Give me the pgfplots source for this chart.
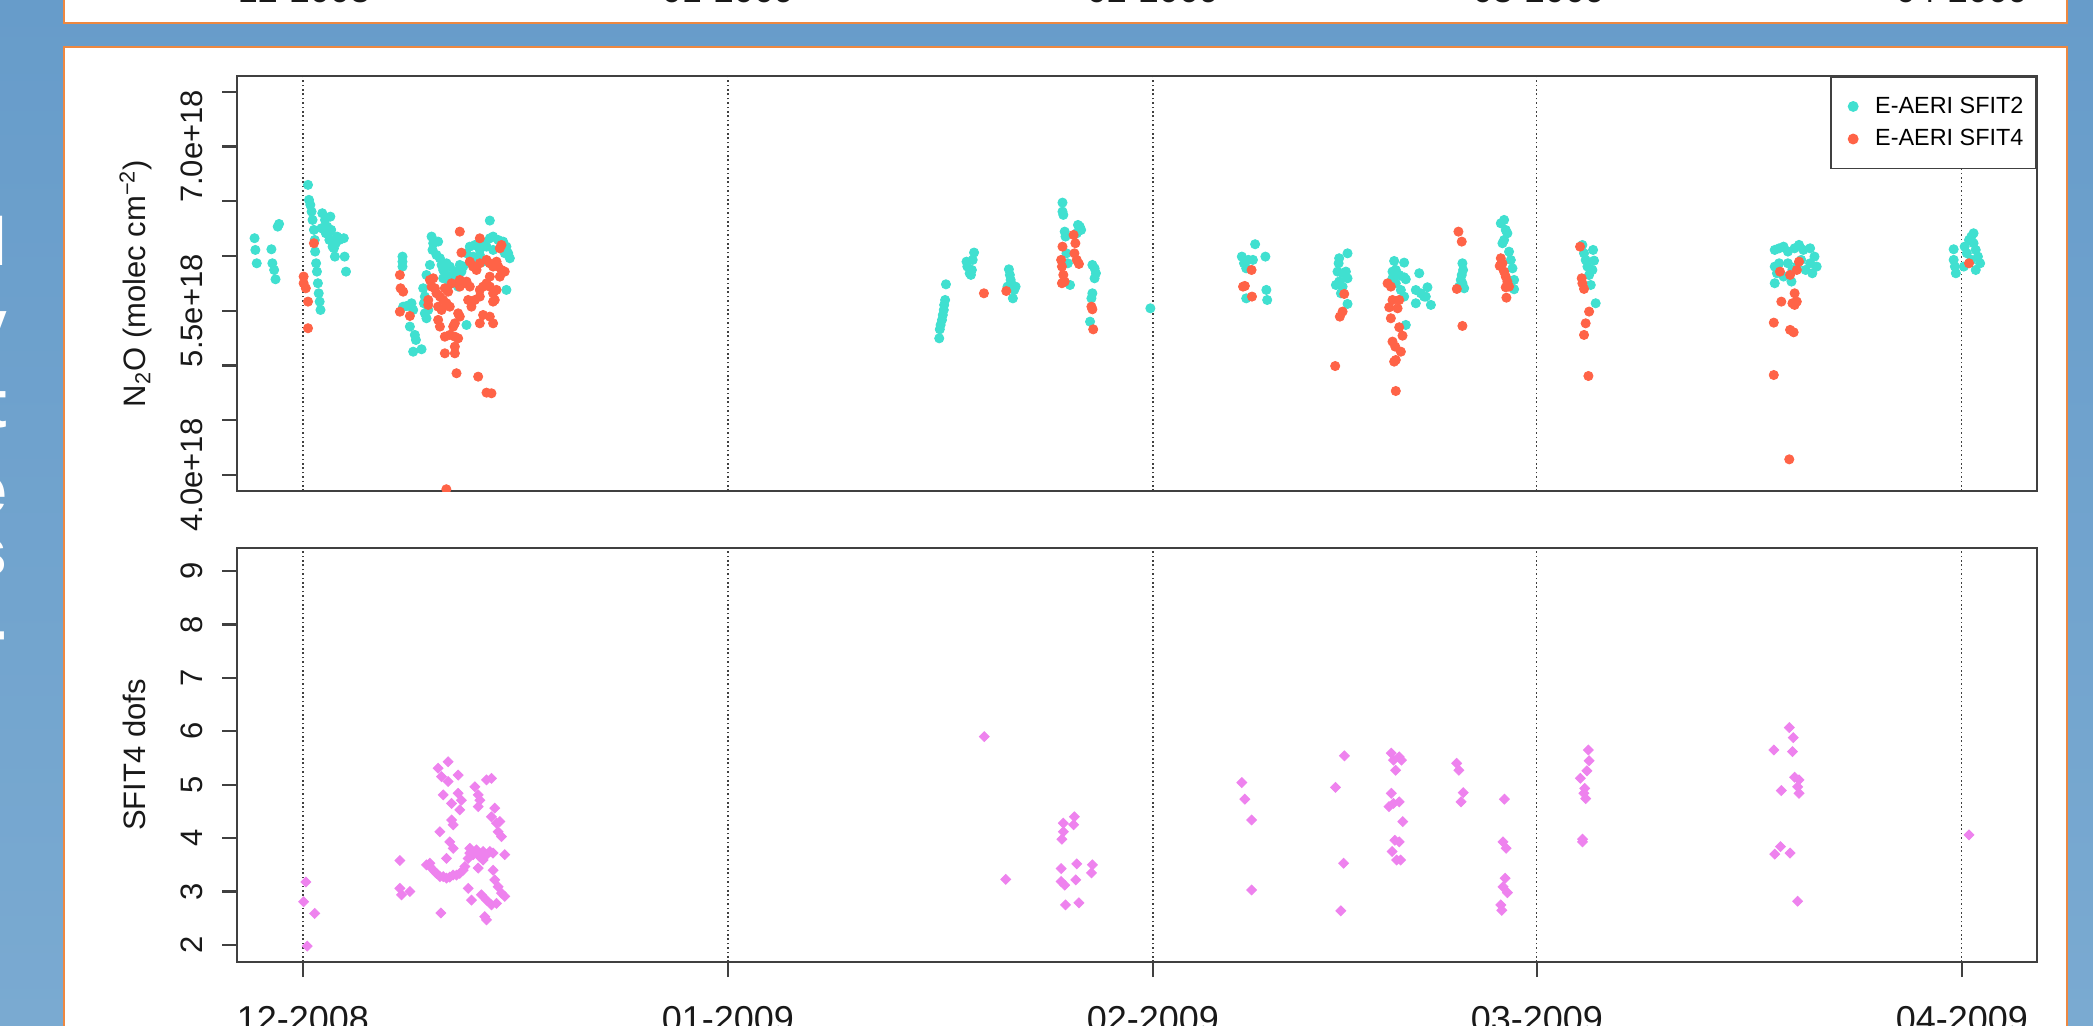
\documentclass[border=0pt]{standalone}
\usepackage{fontspec}
\setmainfont{Liberation Sans}
\usepackage{pgfplots}
\pgfplotsset{compat=1.18}
\definecolor{bgtop}{HTML}{679CCA}
\definecolor{bgbot}{HTML}{7AAAD1}
\definecolor{panelorange}{HTML}{EE8840}
\definecolor{turq}{HTML}{40E0D0}
\definecolor{tomato}{HTML}{FF6347}
\definecolor{violetR}{HTML}{EE82EE}
\definecolor{axisgray}{HTML}{404040}
\pgfplotsset{
  rplot/.style={
    scale only axis, width=900pt,
    xmin=-4.81, xmax=126.48,
    xtick={0,31,62,90,121},
    xmajorgrids,
    major grid style={black!75, line width=0.6pt, dash pattern=on 0.8pt off 1.4pt},
    tick align=outside, major tick length=7.5pt,
    ytick pos=left, xtick pos=bottom,
    minor tick num=0,
    tick style={axisgray, line width=1.1pt},
    axis line style={axisgray, line width=1.1pt},
    yticklabel style={font=\fontsize{15.5}{15.5}\selectfont, text=black!90, inner sep=0pt, xshift=-9.5pt, rotate=90, anchor=south},
    ylabel style={font=\fontsize{15.5}{15.5}\selectfont, text=black!90, at={(axis description cs:-0.0511,0.5)}, anchor=base, inner sep=0pt},
    clip marker paths=true,
  }
}
\begin{document}
\begin{tikzpicture}
\useasboundingbox (0,0) rectangle (1046.5pt,512.5pt);
\clip (0,0) rectangle (1046.5pt,512.5pt);
\fill[top color=bgtop, bottom color=bgbot] (0,0) rectangle (1046.5pt,512.5pt);
% cut-off slide title letters at the far left
\begin{scope}
\clip (0,0) rectangle (31pt,512.5pt);
\foreach \yy/\ch in {380/l, 339/y, 299/t, 256/e, 225/s, 186/-}{
  \node[anchor=base east, text=white, inner sep=0pt, font=\fontsize{34}{34}\selectfont\bfseries] at (4pt,\yy pt) {\ch};
}
\end{scope}
% upper (cut) panel
\draw[panelorange, line width=1.3pt, fill=white] (32pt,501pt) rectangle (1033.5pt,530pt);
\foreach \xx/\lab in {152/12-2008, 364/01-2009, 576.5/02-2009, 769.5/03-2009, 981/04-2009}{
  \node[anchor=base, inner sep=0pt, font=\fontsize{18}{18}\selectfont, text=black!90] at (\xx pt,511pt) {\lab};
}
% main panel
\draw[panelorange, line width=1.3pt, fill=white] (32pt,-20pt) rectangle (1033.5pt,489pt);

% ---------- top axis: N2O ----------
\begin{axis}[rplot,
  at={(118.5pt,267pt)}, anchor=south west, height=207.5pt,
  ymin=3.854, ymax=7.643,
  ytick={4,4.5,5,5.5,6,6.5,7,7.5},
  yticklabels={4.0e+18,,,5.5e+18,,,7.0e+18,},
  xticklabels={},
  xtick style={draw=none},
  ylabel={N\textsubscript{2}O (molec cm\textsuperscript{−2})},
  legend cell align=left,
  legend style={at={(1,1)}, anchor=north east, draw=axisgray, line width=0.8pt, fill=white,
    inner xsep=6.4pt, inner ysep=10pt, row sep=6.6pt,
    font=\fontsize{11.7}{11.7}\selectfont, nodes={inner sep=0pt}},
  legend image code/.code={\path[draw=none, fill=none] (0pt,-2pt) rectangle (15.6pt,2pt);
    \draw[mark repeat=2,mark phase=2] plot coordinates {(0pt,0pt)(4.6pt,0pt)(9.2pt,0pt)};},
]
\addplot[only marks, mark=*, mark size=2.3pt, color=turq, mark options={draw=turq, fill=turq}] coordinates {
(-3.53,6.162) (-3.47,6.055) (-3.37,5.933) (-2.30,6.061) (-2.23,5.933) (-2.10,5.872) (-2.00,5.787) (-1.84,6.268) (-1.74,6.292)
(0.37,6.649) (0.44,6.512) (0.54,6.466) (0.63,6.405) (0.70,6.329) (0.80,6.238) (0.86,6.146) (0.89,6.040) (0.96,5.933) (1.02,5.857)
(1.09,5.751) (1.15,5.659) (1.22,5.583) (1.28,5.507) (1.35,6.253) (1.41,6.390) (1.61,6.329) (1.67,6.207) (1.77,6.268) (1.87,6.207)
(1.93,6.146) (2.00,6.359) (2.06,6.238) (2.16,6.085) (2.26,6.070) (2.33,5.994) (2.39,6.116) (2.49,6.177) (2.65,6.146) (2.98,6.162)
(3.04,5.994) (3.14,5.857)
(7.26,5.994) (7.26,5.948) (7.26,5.903) (7.31,5.537) (7.56,5.543) (7.92,5.568) (8.04,5.507) (7.80,5.355) (8.16,5.279) (8.24,5.233)
(8.04,5.126) (8.65,5.148) (8.77,5.705) (8.89,5.629) (8.82,5.568) (8.89,5.476) (9.01,5.431) (9.14,5.507) (9.01,5.826) (9.26,5.918)
(9.38,6.177) (9.50,6.116) (9.45,6.055) (9.86,6.131) (9.74,6.009) (9.99,5.979) (10.11,5.918) (10.23,5.872) (10.47,5.933) (10.71,5.903)
(10.47,5.826) (10.84,5.811) (11.08,5.857) (11.20,5.781) (10.96,5.750) (11.32,5.720) (11.56,5.857) (11.44,5.918) (10.71,5.750) (10.23,5.796)
(11.93,5.370) (12.17,6.085) (12.54,6.100) (12.90,6.055) (13.14,6.116) (13.63,6.161) (13.87,6.177) (14.24,6.146) (14.60,6.131) (14.84,6.085)
(14.97,6.025) (15.09,5.979) (14.72,6.025) (13.39,6.085) (13.87,6.055) (12.90,6.009) (12.41,5.994) (12.66,5.918) (13.14,5.948) (14.84,5.690)
(13.63,6.323) (11.93,6.025) (11.69,5.903)
(46.41,5.248) (46.45,5.330) (46.51,5.370) (46.61,5.416) (46.67,5.461) (46.74,5.507) (46.77,5.553) (46.84,5.598) (46.90,5.741)
(48.40,5.948) (48.46,5.903) (48.63,5.842) (48.79,5.872) (48.85,5.964) (48.95,6.031) (48.72,5.827)
(51.49,5.878) (51.56,5.827) (51.62,5.781) (51.72,5.735) (51.88,5.690) (51.78,5.613) (51.98,5.720) (51.39,5.720)
(55.40,6.487) (55.40,6.405) (55.46,6.375) (55.56,6.222) (55.62,6.177) (55.69,6.024) (55.79,5.933) (55.95,5.735) (56.53,6.283) (56.66,6.268)
(56.76,6.238) (56.44,6.207)
(57.58,5.918) (57.74,5.887) (57.84,5.842) (57.74,5.796) (57.58,5.659) (57.51,5.613) (57.41,5.400)
(61.81,5.522)
(68.48,5.994) (68.64,5.933) (68.80,5.887) (68.96,5.964) (69.45,6.107) (69.29,5.964) (70.20,5.994) (68.80,5.613) (70.27,5.690) (70.33,5.598)
(75.58,5.979) (75.54,5.933) (76.19,6.024) (75.46,5.857) (75.83,5.842) (76.07,5.857) (76.19,5.796) (75.34,5.735) (75.58,5.766) (75.83,5.720)
(76.19,5.562) (75.71,5.659)
(79.59,5.954) (80.32,5.939) (79.47,5.857) (79.71,5.872) (79.96,5.826) (80.32,5.805) (80.44,5.787) (79.47,5.796) (79.71,5.750) (80.08,5.689)
(80.32,5.629) (81.42,5.842) (81.17,5.689) (81.54,5.659) (81.78,5.629) (82.02,5.714) (81.90,5.629) (81.17,5.568) (82.27,5.553) (80.44,5.370)
(84.57,5.933) (84.62,5.872) (84.52,5.826) (84.45,5.781) (84.57,5.750) (84.70,5.705) (84.33,5.720)
(87.37,6.298) (87.61,6.329) (87.73,6.237) (87.85,6.207) (87.61,6.146) (87.49,6.116) (87.97,6.039) (88.10,5.963) (88.22,5.887) (88.34,5.781)
(88.34,5.696)
(93.32,6.100) (93.44,6.024) (94.10,6.055) (93.56,5.963) (94.17,5.957) (93.69,5.903) (94.05,5.872) (93.81,5.826) (93.93,5.735) (94.29,5.568)
(107.35,6.055) (107.67,6.070) (107.99,6.085) (108.31,6.040) (108.80,6.070) (109.12,6.101) (109.44,6.055) (109.93,6.070) (110.25,5.994) (110.41,5.903)
(110.09,5.842) (109.60,5.872) (108.96,5.903) (108.31,5.933) (107.67,5.933) (107.35,5.903) (107.51,5.842) (107.99,5.812) (108.64,5.872) (109.28,5.964)
(109.93,5.933) (107.35,5.751) (108.57,5.766)
(120.40,6.061) (120.40,5.964) (120.49,5.903) (120.56,5.842) (121.14,5.903) (121.20,6.085) (121.52,6.146) (121.69,6.177) (121.85,6.116) (122.01,6.055)
(122.17,5.994) (122.33,5.933) (122.01,5.872) (121.36,6.025) (121.69,5.964) (121.85,6.207)
};
\addlegendentry{E-AERI SFIT2}
\addplot[only marks, mark=*, mark size=2.3pt, color=tomato, mark options={draw=tomato, fill=tomato}] coordinates {
(0.05,5.812) (0.05,5.751) (0.21,5.705) (0.80,6.116) (0.37,5.583) (0.37,5.340)
(7.07,5.826) (7.12,5.705) (7.31,5.674) (7.07,5.491) (7.80,5.452) (11.44,6.222) (12.90,6.161) (11.56,6.030) (14.48,6.100) (14.36,6.070)
(9.26,5.781) (9.50,5.796) (9.38,5.720) (9.62,5.705) (9.74,5.659) (9.99,5.629) (10.23,5.598) (10.47,5.568) (9.86,5.537) (10.11,5.507)
(9.14,5.598) (9.14,5.553) (10.71,5.537) (10.59,5.674) (10.35,5.705) (10.84,5.750) (11.44,5.781) (11.69,5.750) (11.93,5.766) (11.44,5.720)
(12.17,5.720) (12.05,5.598) (12.29,5.537) (12.54,5.598) (12.90,5.629) (12.17,5.948) (12.41,5.903) (12.66,5.872) (12.90,5.933) (13.39,5.964)
(13.63,5.933) (13.87,5.903) (14.12,5.948) (14.24,5.903) (14.48,5.872) (14.72,5.857) (14.36,5.811) (13.63,5.811) (13.39,5.750) (13.14,5.720)
(12.90,5.690) (13.63,5.720) (13.87,5.659) (14.12,5.690) (13.99,5.598) (13.87,5.583) (11.32,5.476) (11.44,5.446) (11.08,5.385) (10.96,5.355)
(9.86,5.416) (9.99,5.355) (10.35,5.263) (10.71,5.279) (11.08,5.263) (11.32,5.248) (11.08,5.172) (10.35,5.111) (11.08,5.111) (12.90,5.385)
(13.14,5.461) (13.63,5.446) (13.87,5.385) (11.20,4.929) (12.78,4.898) (13.39,4.752) (13.75,4.746) (10.46,3.870)
(49.67,5.659) (51.30,5.680) (55.40,6.085) (55.30,5.964) (55.36,5.903) (55.46,5.827) (55.56,5.766) (55.36,5.751) (56.21,6.192) (56.34,6.116)
(56.27,6.024) (56.44,5.964) (56.60,5.927) (57.51,5.537) (57.58,5.513) (57.64,5.330)
(69.19,5.872) (68.57,5.720) (68.70,5.726) (69.22,5.629)
(75.95,5.653) (75.83,5.492) (75.63,5.446) (75.29,4.995)
(79.11,5.750) (79.35,5.720) (79.47,5.598) (79.96,5.598) (79.23,5.531) (79.84,5.522) (79.35,5.431) (79.96,5.349) (80.20,5.272) (79.47,5.218)
(79.67,5.172) (80.08,5.126) (79.71,5.050) (79.59,5.035) (79.71,4.767)
(84.28,6.222) (84.52,6.131) (84.16,5.699) (84.57,5.361)
(87.37,5.979) (87.49,5.933) (87.29,5.909) (87.61,5.857) (87.73,5.811) (87.85,5.766) (87.73,5.714) (87.97,5.720) (87.78,5.619)
(93.15,6.085) (93.27,5.796) (93.32,5.750) (93.44,5.699) (93.81,5.492) (93.56,5.385) (93.44,5.279) (93.76,4.904)
(109.12,5.948) (108.96,5.872) (108.47,5.827) (107.73,5.857) (107.83,5.583) (108.80,5.659) (108.96,5.583) (108.64,5.568) (108.80,5.553) (107.28,5.391)
(108.47,5.325) (108.73,5.303) (107.28,4.913) (108.41,4.143) (121.52,5.933)
};
\addlegendentry{E-AERI SFIT4}
\end{axis}

% ---------- bottom axis: SFIT4 dofs ----------
\begin{axis}[rplot,
  at={(118.5pt,31.5pt)}, anchor=south west, height=207pt,
  ymin=1.682, ymax=9.43,
  ytick={2,3,4,5,6,7,8,9},
  yticklabels={2,3,4,5,6,7,8,9},
  xticklabels={12-2008,01-2009,02-2009,03-2009,04-2009},
  xticklabel style={font=\fontsize{18}{18}\selectfont, text=black!90, inner sep=0pt, anchor=base, yshift=-27pt},
  ylabel={SFIT4 dofs},
]
\addplot[only marks, mark=square*, mark size=1.75pt, color=violetR, mark options={rotate=45, draw=violetR, fill=violetR}] coordinates {
(0.05,2.81) (0.21,3.18) (0.86,2.59) (0.31,1.98)
(7.07,3.58) (7.07,3.06) (7.19,2.94) (7.80,3.00) (9.99,4.12) (10.06,2.60) (10.47,3.62) (10.59,5.43) (9.86,5.31) (10.11,5.15)
(10.59,5.06) (11.32,5.18) (10.23,4.81) (10.84,4.65) (11.32,4.84) (11.56,4.71) (11.44,4.53) (10.84,4.34) (10.96,4.25) (10.71,3.93)
(10.96,3.81) (12.54,4.96) (12.78,4.81) (12.78,4.59) (12.90,4.71) (13.39,5.09) (13.75,5.12) (13.99,4.56) (13.75,4.40) (14.12,4.28)
(14.36,4.31) (14.24,4.12) (14.48,4.03) (14.72,3.69) (12.17,3.81) (9.01,3.50) (9.26,3.47) (9.62,3.37) (9.99,3.28) (10.47,3.25)
(10.96,3.31) (11.44,3.34) (11.81,3.47) (12.05,3.62) (12.41,3.69) (12.90,3.65) (13.39,3.69) (13.87,3.72) (13.63,3.75) (13.14,3.59)
(12.78,3.44) (13.87,3.40) (13.99,3.22) (14.24,3.09) (14.48,2.97) (14.72,2.91) (12.05,3.06) (12.29,2.84) (13.02,2.94) (13.39,2.84)
(13.75,2.75) (14.12,2.78) (13.26,2.53) (13.39,2.47) (9.26,3.53) (9.74,3.34) (10.23,3.28) (10.71,3.27) (11.20,3.31) (11.69,3.40)
(12.17,3.72) (12.66,3.78) (13.14,3.75)
(49.70,5.90) (51.26,3.23) (55.46,4.28) (55.46,4.12) (55.36,3.98) (56.27,4.40) (56.21,4.25) (55.30,3.43) (55.30,3.19) (55.56,3.12)
(56.44,3.52) (56.37,3.22) (57.58,3.50) (57.51,3.35) (55.62,2.75) (56.60,2.79)
(68.48,5.04) (68.70,4.73) (69.19,4.34) (69.19,3.03)
(75.96,5.54) (75.31,4.95) (75.90,3.53) (75.70,2.64)
(79.38,5.59) (79.54,5.46) (79.70,5.27) (79.38,4.84) (79.21,4.59) (79.54,4.65) (79.64,3.96) (79.44,3.75) (79.77,3.59)
(79.96,5.52) (80.12,5.46) (79.96,4.68) (80.22,4.31) (79.96,3.93) (80.06,3.59)
(84.15,5.40) (84.31,5.27) (84.63,4.85) (84.47,4.68)
(87.63,4.73) (87.53,3.93) (87.76,3.81) (87.69,3.25) (87.53,3.09) (87.85,2.98) (87.37,2.75) (87.44,2.65)
(93.75,5.65) (93.81,5.45) (93.65,5.26) (93.17,5.12) (93.49,4.93) (93.43,4.84) (93.56,4.74) (93.33,3.98) (93.33,3.93)
(108.41,6.07) (108.70,5.88) (107.28,5.65) (108.64,5.62) (107.83,4.89) (108.80,5.14) (109.12,5.09) (109.02,4.96) (109.12,4.84) (107.77,3.84)
(107.35,3.70) (108.47,3.72) (109.02,2.82)
(121.52,4.06)
};
\end{axis}
\end{tikzpicture}
\end{document}
